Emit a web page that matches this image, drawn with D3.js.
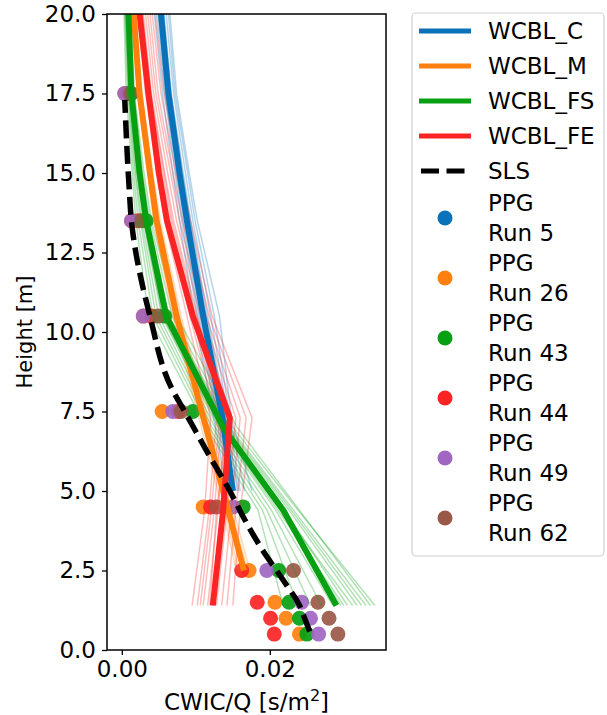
<!DOCTYPE html>
<html><head><meta charset="utf-8">
<script src="https://cdn.jsdelivr.net/npm/d3@7"></script>
<style>body{margin:0;background:#fff}text{font-family:"DejaVu Sans",sans-serif}</style>
</head><body><svg id="c" width="607" height="715"></svg>
<script>
// ---------------- data ----------------
const yTicks = [0, 2.5, 5, 7.5, 10, 12.5, 15, 17.5, 20];
const xTicks = [0, 0.02];

// WCBL_C (blue)
const heightsC = [5.0, 7.3, 10.5, 13.5, 15.0, 17.5, 20.0];
const meanC = [0.0150, 0.0136, 0.0110, 0.0088, 0.0078, 0.0063, 0.0053];
const membersC = [
  [0.0142, 0.0124, 0.0098, 0.0078, 0.0069, 0.0055, 0.0044],
  [0.0145, 0.0128, 0.0102, 0.0081, 0.0072, 0.0058, 0.0047],
  [0.0148, 0.0132, 0.0106, 0.0085, 0.0075, 0.0060, 0.0050],
  [0.0152, 0.0138, 0.0112, 0.0090, 0.0080, 0.0064, 0.0054],
  [0.0156, 0.0141, 0.0116, 0.0093, 0.0083, 0.0067, 0.0057],
  [0.0160, 0.0144, 0.0120, 0.0096, 0.0086, 0.0070, 0.0060],
  [0.0166, 0.0146, 0.0125, 0.0099, 0.0089, 0.0072, 0.0063],
  [0.0176, 0.0148, 0.0132, 0.0102, 0.0091, 0.0074, 0.0065],
  [0.0154, 0.0134, 0.0108, 0.0087, 0.0077, 0.0062, 0.0052],
  [0.0147, 0.0130, 0.0104, 0.0083, 0.0074, 0.0059, 0.0049],
  [0.0158, 0.0140, 0.0114, 0.0092, 0.0082, 0.0066, 0.0056]
];
// WCBL_M (orange)
const heightsM = [2.5, 5.0, 7.5, 10.5, 13.5, 15.0, 17.5, 20.0];
const meanM = [0.0165, 0.0137, 0.0108, 0.0074, 0.0047, 0.0038, 0.0024, 0.0016];
const membersM = [
  [0.0155, 0.0130, 0.0102, 0.0069, 0.0043, 0.0035, 0.0022, 0.0014],
  [0.0158, 0.0133, 0.0105, 0.0071, 0.0045, 0.0036, 0.0023, 0.0015],
  [0.0162, 0.0135, 0.0107, 0.0073, 0.0046, 0.0037, 0.0024, 0.0016],
  [0.0167, 0.0139, 0.0110, 0.0076, 0.0048, 0.0039, 0.0025, 0.0017],
  [0.0170, 0.0141, 0.0112, 0.0078, 0.0050, 0.0041, 0.0026, 0.0018],
  [0.0173, 0.0144, 0.0114, 0.0080, 0.0052, 0.0042, 0.0027, 0.0019],
  [0.0164, 0.0138, 0.0109, 0.0075, 0.0047, 0.0038, 0.0024, 0.0016]
];
// WCBL_FS (green)
const heightsFS = [1.4, 4.4, 7.0, 10.5, 13.5, 15.0, 17.5, 20.0];
const meanFS = [0.0290, 0.0218, 0.0137, 0.0060, 0.0033, 0.0024, 0.0013, 0.0009];
const membersFS = [
  [0.0342, 0.0238, 0.0150, 0.0068, 0.0038, 0.0028, 0.0016, 0.0011],
  [0.0330, 0.0232, 0.0146, 0.0064, 0.0036, 0.0026, 0.0015, 0.0010],
  [0.0318, 0.0226, 0.0142, 0.0062, 0.0034, 0.0025, 0.0014, 0.0010],
  [0.0305, 0.0220, 0.0140, 0.0060, 0.0033, 0.0024, 0.0013, 0.0009],
  [0.0296, 0.0214, 0.0134, 0.0057, 0.0031, 0.0022, 0.0012, 0.0008],
  [0.0285, 0.0208, 0.0130, 0.0054, 0.0029, 0.0021, 0.0011, 0.0007],
  [0.0270, 0.0202, 0.0126, 0.0050, 0.0027, 0.0019, 0.0010, 0.0006],
  [0.0255, 0.0196, 0.0122, 0.0046, 0.0025, 0.0018, 0.0009, 0.0005],
  [0.0238, 0.0190, 0.0118, 0.0042, 0.0022, 0.0016, 0.0008, 0.0004],
  [0.0218, 0.0184, 0.0114, 0.0036, 0.0019, 0.0014, 0.0006, 0.0003],
  [0.0336, 0.0240, 0.0156, 0.0074, 0.0040, 0.0030, 0.0017, 0.0012],
  [0.0312, 0.0216, 0.0136, 0.0058, 0.0032, 0.0023, 0.0013, 0.0009],
  [0.0324, 0.0229, 0.0144, 0.0063, 0.0035, 0.0025, 0.0014, 0.0010],
  [0.0300, 0.0211, 0.0132, 0.0055, 0.0030, 0.0021, 0.0012, 0.0008]
];
// WCBL_FE (red)
const heightsFE = [1.4, 4.4, 7.3, 10.5, 13.5, 15.0, 17.5, 20.0];
const meanFE = [0.0123, 0.0137, 0.0146, 0.0096, 0.0061, 0.0050, 0.0036, 0.0024];
const membersFE = [
  [0.0095, 0.0112, 0.0120, 0.0088, 0.0058, 0.0048, 0.0032, 0.0022],
  [0.0102, 0.0118, 0.0128, 0.0092, 0.0062, 0.0052, 0.0035, 0.0025],
  [0.0110, 0.0125, 0.0135, 0.0098, 0.0066, 0.0055, 0.0038, 0.0027],
  [0.0116, 0.0130, 0.0140, 0.0102, 0.0070, 0.0058, 0.0040, 0.0029],
  [0.0122, 0.0136, 0.0148, 0.0106, 0.0074, 0.0062, 0.0043, 0.0032],
  [0.0128, 0.0142, 0.0154, 0.0110, 0.0078, 0.0066, 0.0046, 0.0035],
  [0.0135, 0.0148, 0.0160, 0.0114, 0.0082, 0.0069, 0.0049, 0.0038],
  [0.0142, 0.0154, 0.0168, 0.0118, 0.0087, 0.0073, 0.0053, 0.0041],
  [0.0150, 0.0160, 0.0176, 0.0122, 0.0093, 0.0078, 0.0057, 0.0045],
  [0.0119, 0.0128, 0.0144, 0.0100, 0.0068, 0.0057, 0.0039, 0.0028],
  [0.0106, 0.0121, 0.0132, 0.0095, 0.0064, 0.0053, 0.0037, 0.0026]
];
// SLS (black dashed)
const heightsSLS = [0.58, 1.0, 1.36, 2.2, 3.04, 4.19, 5.0, 6.0, 7.5, 8.2, 10.5, 13.5, 14.5, 17.3];
const valuesSLS  = [0.0254, 0.0247, 0.0241, 0.0218, 0.0193, 0.0164, 0.0146, 0.0121, 0.0085, 0.0068, 0.0038, 0.0013, 0.0010, 0.0004];

// PPG observations
const ppgHeights = [0.5, 1.0, 1.5, 2.5, 4.5, 7.5, 10.5, 13.5, 17.5];
const run5  = [null, null, null, null, null, null, null, null, null];
const run26 = [0.0240, 0.0222, 0.0207, 0.0172, 0.0110, 0.00545, 0.0029, 0.0013, 0.0004];
const run43 = [0.0250, 0.0240, 0.0226, 0.0212, 0.0164, 0.0096, 0.0058, 0.0033, 0.0013];
const run44 = [0.0206, 0.0201, 0.0183, 0.0162, 0.0120, 0.0076, 0.0040, 0.0022, 0.0008];
const run49 = [0.0266, 0.0255, 0.0243, 0.0196, 0.0150, 0.0069, 0.0029, 0.0013, 0.0004];
const run62 = [0.0292, 0.0280, 0.0265, 0.0232, 0.0128, 0.0080, 0.0049, 0.0027, 0.0012];

const cBlue = "#0a72b8", cOrange = "#ff800e", cGreen = "#07a012", cRed = "#fb2424",
      cPurple = "#a066c2", cBrown = "#9a5848";

// ---------------- chart ----------------
const svg = d3.select("#c");
const L = 107, R = 386, T = 14, B = 650;
const x = d3.scaleLinear().domain([-0.002, 0.0357]).range([L, R]);
const y = d3.scaleLinear().domain([0, 20]).range([B, T]);
const FS = 23;

svg.append("clipPath").attr("id", "clip").append("rect")
  .attr("x", L).attr("y", T).attr("width", R - L).attr("height", B - T);
const plot = svg.append("g").attr("clip-path", "url(#clip)");

const line = (hs) => d3.line().defined(d => d != null)
  .x(d => x(d)).y((d, i) => y(hs[i]));

// PPG dots
const runs = [
  {vals: run5, color: cBlue}, {vals: run26, color: cOrange}, {vals: run43, color: cGreen},
  {vals: run44, color: cRed}, {vals: run49, color: cPurple}, {vals: run62, color: cBrown}
];
runs.forEach(r => {
  plot.selectAll(null).data(ppgHeights.map((h, i) => ({h, v: r.vals[i]})).filter(d => d.v != null))
    .join("circle").attr("cx", d => x(d.v)).attr("cy", d => y(d.h)).attr("r", 7.5)
    .attr("fill", r.color).attr("fill-opacity", 0.92);
});

const models = [
  {hs: heightsC, mean: meanC, members: membersC, color: cBlue},
  {hs: heightsM, mean: meanM, members: membersM, color: cOrange},
  {hs: heightsFS, mean: meanFS, members: membersFS, color: cGreen},
  {hs: heightsFE, mean: meanFE, members: membersFE, color: cRed}
];
models.forEach(m => {
  m.members.forEach(mem => {
    plot.append("path").attr("d", line(m.hs)(mem)).attr("fill", "none")
      .attr("stroke", m.color).attr("stroke-opacity", 0.3).attr("stroke-width", 1.5);
  });
});
models.forEach(m => {
  plot.append("path").attr("d", line(m.hs)(m.mean)).attr("fill", "none")
    .attr("stroke", m.color).attr("stroke-width", 6).attr("stroke-linejoin", "round");
});
plot.append("path")
  .attr("d", d3.line().x(d => x(d)).y((d, i) => y(heightsSLS[i])).curve(d3.curveMonotoneY)(valuesSLS))
  .attr("fill", "none").attr("stroke", "#000").attr("stroke-width", 5.5)
  .attr("stroke-dasharray", "18,7.5");

// axes
const ya = svg.append("g").attr("transform", `translate(${L},0)`)
  .call(d3.axisLeft(y).tickValues(yTicks).tickFormat(d3.format(".1f")).tickSize(5).tickPadding(6));
const xa = svg.append("g").attr("transform", `translate(0,${B})`)
  .call(d3.axisBottom(x).tickValues(xTicks).tickFormat(d3.format(".2f")).tickSize(5).tickPadding(6));
[ya, xa].forEach(a => {
  a.select(".domain").remove();
  a.selectAll(".tick line").attr("stroke", "#000").attr("stroke-width", 1.3);
  a.selectAll(".tick text").attr("font-size", FS).attr("fill", "#000")
    .attr("font-family", "DejaVu Sans");
});
xa.selectAll(".tick text").attr("dy", "0.71em");
svg.append("rect").attr("x", L).attr("y", T).attr("width", R - L).attr("height", B - T)
  .attr("fill", "none").attr("stroke", "#000").attr("stroke-width", 1.5);

// axis labels
svg.append("text").attr("x", (L + R) / 2).attr("y", 710).attr("text-anchor", "middle")
  .attr("font-size", FS).text("CWIC/Q [s/m")
  .append("tspan").attr("font-size", 16).attr("dy", -9).text("2")
  .select(function(){return this.parentNode;})
  .append("tspan").attr("dy", 9).text("]");
svg.append("text").attr("transform", `translate(32,${(T + B) / 2}) rotate(-90)`)
  .attr("text-anchor", "middle").attr("font-size", 21).text("Height [m]");

// legend
const lg = svg.append("g");
lg.append("rect").attr("x", 412).attr("y", 13).attr("width", 192).attr("height", 543)
  .attr("rx", 4).attr("fill", "#fff").attr("stroke", "#d0d0d0").attr("stroke-width", 1.2);
const lineEntries = [
  {label: "WCBL_C", color: cBlue}, {label: "WCBL_M", color: cOrange},
  {label: "WCBL_FS", color: cGreen}, {label: "WCBL_FE", color: cRed},
  {label: "SLS", color: "#000", dash: true}
];
lineEntries.forEach((e, i) => {
  const yy = 31 + 35 * i;
  lg.append("line").attr("x1", 419).attr("x2", 471).attr("y1", yy).attr("y2", yy)
    .attr("stroke", e.color).attr("stroke-width", 5)
    .attr("stroke-dasharray", e.dash ? "18,7.5" : null).attr("stroke-dashoffset", e.dash ? -2 : null);
  lg.append("text").attr("x", 488).attr("y", yy).attr("dy", "0.36em").attr("font-size", FS).text(e.label);
});
const runLabels = ["Run 5", "Run 26", "Run 43", "Run 44", "Run 49", "Run 62"];
runLabels.forEach((lab, j) => {
  const yy = 218 + 60 * j;
  lg.append("circle").attr("cx", 445).attr("cy", yy).attr("r", 7.5).attr("fill", runs[j].color);
  lg.append("text").attr("x", 488).attr("y", yy - 15).attr("dy", "0.36em").attr("font-size", FS).text("PPG");
  lg.append("text").attr("x", 488).attr("y", yy + 15).attr("dy", "0.36em").attr("font-size", FS).text(lab);
});
</script></body></html>
